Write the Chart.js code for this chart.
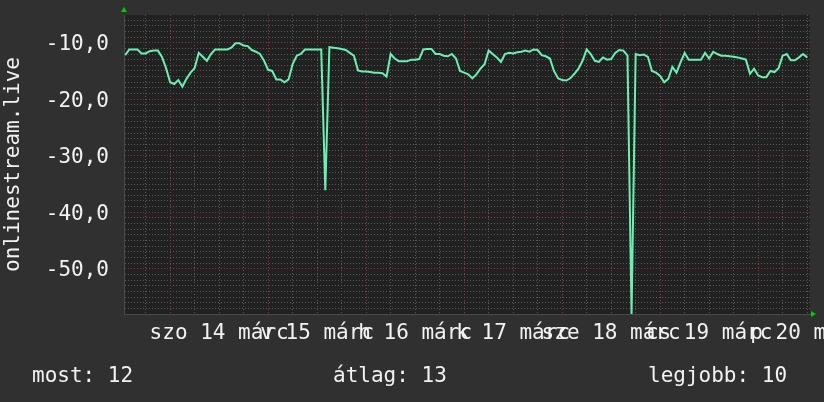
<!DOCTYPE html>
<html lang="hu">
<head>
<meta charset="UTF-8">
<title>onlinestream.live</title>
<script src="https://cdn.jsdelivr.net/npm/chart.js@4.4.0/dist/chart.umd.min.js"></script>
<style>
  html, body { margin: 0; padding: 0; background: #303030; }
  canvas { display: block; }
</style>
</head>
<body>
<canvas id="rrd" width="824" height="402"></canvas>
<script>
// hourly samples; hour 0 = szo 14 márc 00:00, first sample at -11 h
const firstHour = -11;
const values = [
  -12.2, -11.2, -11.2, -11.2, -11.9, -11.9, -11.5, -11.4, -11.4, -12.5,
  -14.5, -17.0, -17.3, -16.6, -17.8, -16.4, -15.3, -14.5, -11.8, -12.5,
  -13.2, -12.0, -11.2, -11.2, -11.2, -11.2, -10.9, -10.1, -10.1, -10.5,
  -10.6, -11.3, -11.6, -12.0, -13.2, -14.8, -15.0, -16.5, -16.5, -17.0,
  -16.5, -13.8, -12.3, -12.0, -11.2, -11.2, -11.2, -11.2, -11.2, -36.1,
  -10.8, -10.9, -11.0, -11.1, -11.3, -11.8, -12.3, -14.9, -15.1, -15.1,
  -15.2, -15.3, -15.3, -15.4, -16.0, -12.0, -12.8, -13.3, -13.3, -13.3,
  -13.0, -13.0, -12.9, -11.2, -11.1, -11.1, -12.0, -12.0, -12.3, -12.4,
  -12.0, -12.8, -15.0, -15.3, -15.6, -16.3, -15.6, -14.6, -13.8, -11.4,
  -12.0, -12.6, -13.4, -12.0, -11.8, -11.9, -11.7, -11.6, -11.4, -11.6,
  -11.2, -11.3, -12.2, -12.4, -12.8, -15.0, -16.3, -16.6, -16.7, -16.3,
  -15.5, -14.6, -13.2, -11.2, -12.0, -13.2, -13.4, -12.6, -13.0, -12.9,
  -11.8, -11.3, -11.4, -12.3, -58.0, -12.0, -12.2, -12.1, -12.5, -15.0,
  -15.3, -15.9, -17.0, -16.4, -14.3, -15.3, -13.5, -11.8, -13.0, -13.0,
  -13.0, -13.0, -11.8, -12.8, -11.6, -12.0, -12.3, -12.3, -12.4, -12.5,
  -12.6, -12.8, -13.0, -15.5, -14.6, -15.8, -16.1, -16.1, -15.0, -15.2,
  -14.5, -12.3, -12.0, -13.1, -13.1, -12.6, -12.0, -12.6
];
// one label per day, placed at noon
const dayLabels = ['szo 14 márc', 'v 15 márc', 'h 16 márc', 'k 17 márc', 'sze 18 márc', 'cs 19 márc', 'p 20 márc'];
const legendNames = ['most', 'átlag', 'legjobb'];
const legendValues = [12, 13, 10];
const yTitle = 'onlinestream.live';

const points = values.map((v, i) => ({ x: firstHour + i, y: v }));

const FONT = { family: 'DejaVu Sans Mono', size: 21 };
Chart.defaults.font.family = FONT.family;
Chart.defaults.color = '#f2f2f2';

const minorGrid = '#595959';
const majorGrid = '#8a3a3a';

const rrdLook = {
  id: 'rrdLook',
  beforeDraw(chart) {
    const { ctx, chartArea: a } = chart;
    ctx.save();
    ctx.fillStyle = '#303030';
    ctx.fillRect(0, 0, chart.width, chart.height);
    ctx.fillStyle = '#212121';
    ctx.fillRect(a.left, a.top, a.right - a.left, a.bottom - a.top);
    ctx.restore();
  },
  afterDraw(chart) {
    const { ctx, chartArea: a } = chart;
    ctx.save();
    // green arrows at the axis ends
    ctx.fillStyle = '#00cc00';
    ctx.beginPath();
    ctx.moveTo(a.left, a.top - 8);
    ctx.lineTo(a.left - 3, a.top - 3);
    ctx.lineTo(a.left + 3, a.top - 3);
    ctx.closePath();
    ctx.fill();
    ctx.beginPath();
    ctx.moveTo(a.right + 6, a.bottom);
    ctx.lineTo(a.right + 1, a.bottom - 3);
    ctx.lineTo(a.right + 1, a.bottom + 3);
    ctx.closePath();
    ctx.fill();
    // summary line under the graph
    ctx.fillStyle = '#f2f2f2';
    ctx.font = FONT.size + 'px ' + FONT.family;
    ctx.textBaseline = 'alphabetic';
    const xs = [32, 333, 648];
    legendNames.forEach((n, i) => {
      ctx.fillText(n + ': ' + legendValues[i], xs[i], 382);
    });
    ctx.restore();
  }
};

new Chart(document.getElementById('rrd'), {
  type: 'line',
  data: {
    datasets: [{
      data: points,
      borderColor: '#6cf0b2',
      borderWidth: 2,
      pointRadius: 0,
      tension: 0,
      fill: false
    }]
  },
  options: {
    responsive: false,
    animation: false,
    layout: { padding: { left: 0, right: 14, top: 15, bottom: 0 } },
    plugins: { legend: { display: false }, tooltip: { enabled: false } },
    scales: {
      x: {
        type: 'linear',
        min: -11.3,
        max: 156.7,
        afterBuildTicks(scale) {
          const t = [];
          for (let h = -6; h <= 156; h += 6) t.push({ value: h });
          scale.ticks = t;
        },
        afterFit(scale) {
          scale.height = 88;
          scale.paddingLeft = 0;
          scale.paddingRight = 0;
        },
        ticks: {
          autoSkip: false,
          maxRotation: 0,
          minRotation: 0,
          padding: 7,
          font: FONT,
          callback: (v) => ((v - 12) % 24 === 0 ? dayLabels[(v - 12) / 24] : '')
        },
        grid: {
          drawTicks: false,
          color: (c) => (c.tick && c.tick.value % 24 === 0 ? majorGrid : minorGrid)
        },
        border: { color: '#4a4a4a', dash: [1, 2] }
      },
      y: {
        min: -58,
        max: -5.1,
        afterBuildTicks(scale) {
          const t = [];
          for (let v = -58; v <= -6; v++) t.push({ value: v });
          scale.ticks = t;
        },
        afterFit(scale) {
          scale.width = 124;
          scale.paddingTop = 0;
          scale.paddingBottom = 0;
        },
        ticks: {
          autoSkip: false,
          padding: 15,
          labelOffset: 2,
          font: FONT,
          callback: (v) => (v % 10 === 0 ? v.toFixed(1).replace('.', ',') : '')
        },
        grid: {
          drawTicks: false,
          color: (c) => (c.tick && c.tick.value % 10 === 0 ? majorGrid : minorGrid)
        },
        border: { color: '#4a4a4a', dash: [1, 2] },
        title: {
          display: true,
          text: yTitle,
          font: FONT,
          padding: { top: 1, bottom: 0 }
        }
      }
    }
  },
  plugins: [rrdLook]
});
</script>
</body>
</html>
